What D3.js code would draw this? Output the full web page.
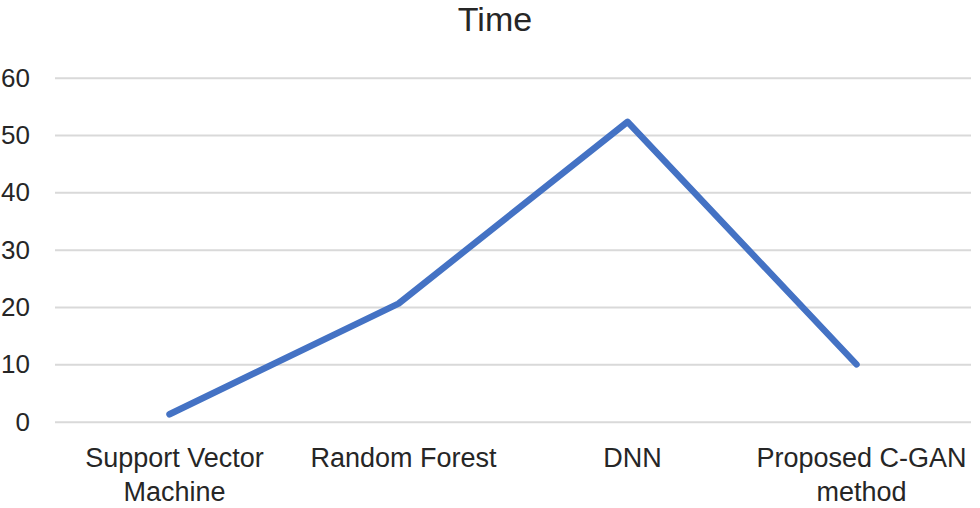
<!DOCTYPE html>
<html>
<head>
<meta charset="utf-8">
<script src="https://cdn.jsdelivr.net/npm/d3@7"></script>
<style>
    body { margin: 0; background: #fff; }
    text { font-family: "Liberation Sans", Arial, sans-serif; fill: #262626; }
</style>
</head>
<body>
<script>
const categories = ["Support Vector Machine", "Random Forest", "DNN", "Proposed C-GAN method"]
const timeValues = [1.3, 20.6, 52.3, 10]
const yTicks = [0, 10, 20, 30, 40, 50, 60]
const title = "Time"

const WIDTH = 980
const HEIGHT = 508

const PLOT = {
    left: 55,
    right: 971,
    top: 77.7,
    bottom: 421.7
}

const svg = d3
    .select("body")
    .append("svg")
    .attr("width", WIDTH)
    .attr("height", HEIGHT)

const x = d3
    .scaleBand()
    .domain(categories)
    .range([PLOT.left, PLOT.right])
    .padding(0)

const y = d3
    .scaleLinear()
    .domain([0, 60])
    .range([PLOT.bottom, PLOT.top])

// gridlines + y labels
const yAxis = svg
    .append("g")
    .attr("transform", `translate(${PLOT.left},0)`)
    .call(d3.axisLeft(y)
        .tickValues(yTicks)
        .tickSize(-(PLOT.right - PLOT.left))
        .tickPadding(25))

yAxis.select(".domain").remove()
yAxis.selectAll(".tick line")
    .attr("stroke", "#d9d9d9")
    .attr("stroke-width", 2)
yAxis.selectAll(".tick text")
    .attr("font-size", "26px")
    .attr("font-family", "Liberation Sans, Arial, sans-serif")
    .attr("fill", "#262626")

// category labels (slightly right of band centre, as in the original)
const xAxis = svg
    .append("g")
    .attr("transform", `translate(5,${PLOT.bottom})`)
    .call(d3.axisBottom(x).tickSize(0).tickPadding(0))

xAxis.select(".domain").remove()
xAxis.selectAll(".tick text")
    .attr("font-size", "27px")
    .attr("font-family", "Liberation Sans, Arial, sans-serif")
    .attr("fill", "#262626")
    .attr("dy", null)
    .attr("y", 45)
    .call(wrap, 240)

// line
const line = d3
    .line()
    .x((_, i) => x(categories[i]) + x.bandwidth() / 2)
    .y(d => y(d))

svg.append("path")
    .datum(timeValues)
    .attr("d", line)
    .attr("fill", "none")
    .attr("stroke", "#4472c4")
    .attr("stroke-width", 6.5)
    .attr("stroke-linejoin", "round")
    .attr("stroke-linecap", "round")

svg.append("text")
    .attr("x", 495)
    .attr("y", 31)
    .attr("text-anchor", "middle")
    .attr("font-size", "34px")
    .text(title)

function wrap(texts, width) {
    texts.each(function () {
        const text = d3.select(this)
        const words = text.text().split(/\s+/)
        const y0 = +text.attr("y")
        let lineWords = []
        let lineNo = 0
        text.text(null)
        let tspan = text.append("tspan").attr("x", 0).attr("y", y0)
        words.forEach(w => {
            lineWords.push(w)
            tspan.text(lineWords.join(" "))
            if (tspan.node().getComputedTextLength() > width && lineWords.length > 1) {
                lineWords.pop()
                tspan.text(lineWords.join(" "))
                lineWords = [w]
                lineNo++
                tspan = text.append("tspan")
                    .attr("x", 0)
                    .attr("y", y0 + lineNo * 34.3)
                    .text(w)
            }
        })
    })
}
</script>
</body>
</html>
